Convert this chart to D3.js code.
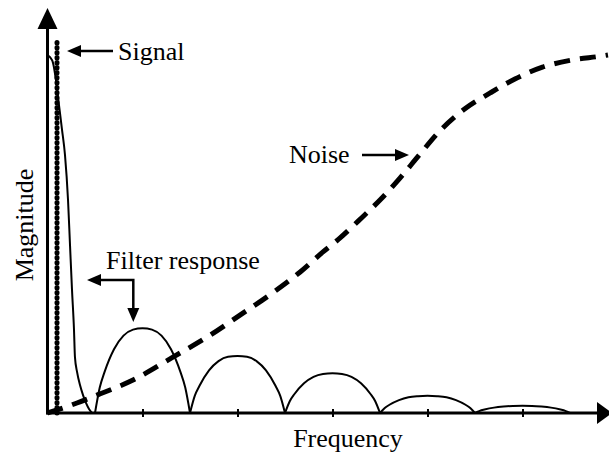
<!DOCTYPE html>
<html>
<head>
<meta charset="utf-8">
<script src="https://cdn.jsdelivr.net/npm/d3@7"></script>
<style>
  html, body { margin: 0; padding: 0; background: #fff; }
  svg { display: block; }
  text { font-family: "Liberation Serif", "Times New Roman", serif; fill: #000; }
</style>
</head>
<body>
<svg id="chart" width="609" height="455"></svg>
<script>
// ---- data (frequency in tick units, magnitude relative to main-lobe peak) ----
const xTicks = [1, 2, 3, 4, 5];

const mainLobeF = [0, 0.026, 0.058, 0.089, 0.121, 0.153, 0.184, 0.216, 0.237, 0.258, 0.279, 0.289, 0.311, 0.342, 0.374, 0.405, 0.437, 0.468];
const mainLobeM = [1.0, 0.994, 0.978, 0.930, 0.860, 0.791, 0.721, 0.595, 0.469, 0.344, 0.232, 0.156, 0.115, 0.078, 0.05, 0.028, 0.011, 0];

const sideLobeStarts = [0.5, 1.5, 2.5, 3.5, 4.5];
const sideLobeOffsets = [0, 0.05, 0.1, 0.2, 0.3, 0.4, 0.5, 0.6, 0.7, 0.8, 0.9, 0.95, 1];
const sideLobe1 = [0, 0.071, 0.114, 0.178, 0.216, 0.233, 0.237, 0.233, 0.216, 0.178, 0.114, 0.071, 0];
const sideLobe2 = [0, 0.048, 0.076, 0.119, 0.145, 0.157, 0.159, 0.157, 0.145, 0.119, 0.076, 0.048, 0];
const sideLobe3 = [0, 0.033, 0.053, 0.083, 0.101, 0.109, 0.111, 0.109, 0.101, 0.083, 0.053, 0.033, 0];
const sideLobe4 = [0, 0.014, 0.023, 0.036, 0.044, 0.047, 0.048, 0.047, 0.044, 0.036, 0.023, 0.014, 0];
const sideLobe5 = [0, 0.006, 0.0096, 0.015, 0.018, 0.0197, 0.02, 0.0197, 0.018, 0.015, 0.0096, 0.006, 0];

const noiseF = [0, 0.31, 0.55, 0.9, 1.32, 1.68, 2.03, 2.34, 2.66, 2.9, 3.08, 3.27, 3.5, 3.71, 3.92, 4.13, 4.39, 4.66, 4.92, 5.21, 5.52, 5.83, 5.9];
const noiseM = [0, 0.028, 0.053, 0.092, 0.156, 0.212, 0.274, 0.33, 0.394, 0.45, 0.489, 0.536, 0.595, 0.656, 0.723, 0.788, 0.849, 0.894, 0.933, 0.966, 0.986, 0.997, 1.0];

const signalF = 0.1;
const signalM = [0, 1.04];

const labels = { signal: "Signal", noise: "Noise", filter: "Filter response", xTitle: "Frequency", yTitle: "Magnitude" };

// ---- scales ----
const svg = d3.select("#chart");
const x = d3.scaleLinear().domain([0, 5.9]).range([47.5, 608]);
const y = d3.scaleLinear().domain([0, 1]).range([413, 55]);

// ---- noise (dashed) ----
const line = d3.line().x(d => x(d[0])).y(d => y(d[1]));
svg.append("path")
  .datum(noiseF.map((f, i) => [f, noiseM[i]]))
  .attr("d", line.curve(d3.curveMonotoneX))
  .attr("fill", "none").attr("stroke", "#000")
  .attr("stroke-width", 5).attr("stroke-dasharray", "16,10");

// ---- filter response ----
svg.append("path")
  .datum(mainLobeF.map((f, i) => [f, mainLobeM[i]]))
  .attr("d", d3.line().x(d => x(d[0])).y(d => y(d[1])).curve(d3.curveMonotoneX))
  .attr("fill", "none").attr("stroke", "#000").attr("stroke-width", 2);

const sideLobes = [sideLobe1, sideLobe2, sideLobe3, sideLobe4, sideLobe5];
sideLobes.forEach((vals, k) => {
  svg.append("path")
    .datum(sideLobeOffsets.map((o, i) => [sideLobeStarts[k] + o, vals[i]]))
    .attr("d", d3.line().x(d => x(d[0])).y(d => y(d[1])).curve(d3.curveMonotoneX))
    .attr("fill", "none").attr("stroke", "#000").attr("stroke-width", 2);
});

// ---- signal (dotted) ----
svg.append("line")
  .attr("x1", x(signalF)).attr("x2", x(signalF))
  .attr("y1", y(signalM[0])).attr("y2", y(signalM[1]))
  .attr("stroke", "#000").attr("stroke-width", 5)
  .attr("stroke-linecap", "round").attr("stroke-dasharray", "0.6,4.4");

// ---- axes ----
const xAxis = d3.axisBottom(x).tickValues(xTicks).tickFormat("").tickSize(8);
const gx = svg.append("g").attr("transform", `translate(0,${y(0)})`).call(xAxis);
gx.select(".domain").remove();
gx.selectAll(".tick line").attr("y1", -4).attr("y2", 4).attr("stroke", "#000").attr("stroke-width", 2);

const x0 = x(0), y0 = y(0);
svg.append("line").attr("x1", x0 - 1).attr("x2", 600).attr("y1", y0).attr("y2", y0)
  .attr("stroke", "#000").attr("stroke-width", 3);
svg.append("path").attr("d", `M597,${y0 - 11}L612,${y0}L597,${y0 + 11}Z`).attr("fill", "#000");

svg.append("line").attr("x1", x0).attr("x2", x0).attr("y1", y0 + 1.5).attr("y2", 26)
  .attr("stroke", "#000").attr("stroke-width", 3);
svg.append("path").attr("d", `M${x0 - 10},29L${x0},8L${x0 + 10},29Z`).attr("fill", "#000");

// ---- axis titles ----
svg.append("text").attr("x", 348).attr("y", 447).attr("text-anchor", "middle")
  .attr("font-size", 26).text(labels.xTitle);
svg.append("text").attr("transform", "translate(33,225) rotate(-90)").attr("text-anchor", "middle")
  .attr("font-size", 26).text(labels.yTitle);

// ---- annotations ----
function arrowHead(tx, ty, dir) {
  const L = 14, W = 6;
  let d;
  if (dir === "left") d = `M${tx},${ty}L${tx + L},${ty - W}L${tx + L},${ty + W}Z`;
  if (dir === "right") d = `M${tx},${ty}L${tx - L},${ty - W}L${tx - L},${ty + W}Z`;
  if (dir === "down") d = `M${tx},${ty}L${tx - W},${ty - L}L${tx + W},${ty - L}Z`;
  svg.append("path").attr("d", d).attr("fill", "#000");
}
// Signal
svg.append("line").attr("x1", 75).attr("x2", 113).attr("y1", 51).attr("y2", 51)
  .attr("stroke", "#000").attr("stroke-width", 2.5);
arrowHead(67, 51, "left");
svg.append("text").attr("x", 118).attr("y", 60).attr("font-size", 26).text(labels.signal);

// Noise
svg.append("text").attr("x", 289).attr("y", 163).attr("font-size", 26).text(labels.noise);
svg.append("line").attr("x1", 362).attr("x2", 400).attr("y1", 155).attr("y2", 155)
  .attr("stroke", "#000").attr("stroke-width", 2.5);
arrowHead(409, 155, "right");

// Filter response
svg.append("text").attr("x", 106).attr("y", 269).attr("font-size", 26).text(labels.filter);
svg.append("path").attr("d", "M95,280L133.3,280L133.3,312")
  .attr("fill", "none").attr("stroke", "#000").attr("stroke-width", 2.5);
arrowHead(87, 280, "left");
arrowHead(133.3, 322, "down");
</script>
</body>
</html>
